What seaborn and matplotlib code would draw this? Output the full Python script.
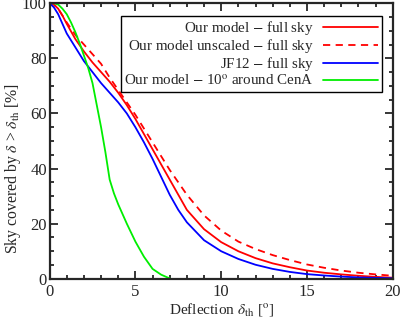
import numpy as np
import pandas as pd
import matplotlib
matplotlib.use("Agg")
import matplotlib.pyplot as plt
from matplotlib.ticker import MultipleLocator
import seaborn as sns

# deflection grid for the full-sky curves
x_full = [0, 0.25, 0.5, 0.75, 1, 1.5, 2, 2.5, 3, 3.5, 4, 4.5, 5, 5.5, 6, 6.5,
          7, 7.5, 8, 9, 10, 11, 12, 13, 14, 15, 16, 17, 18, 19, 20]
our_model = [100, 99.5, 98, 95.5, 92.5, 87, 82.5, 78.5, 75, 71.5, 67.5, 63, 58, 52.5, 47, 41.5,
             36, 30.5, 25, 18, 13.3, 10, 7.5, 5.6, 4.2, 3, 2.2, 1.6, 1.1, 0.7, 0.4]
our_unscaled = [100, 99.5, 98, 95.5, 93, 88.5, 85, 81.5, 78, 73, 68.5, 64, 59.5, 54.5, 49.5, 44.5,
                39.5, 35, 30.5, 23, 17.5, 13.5, 10.8, 8.6, 6.8, 5.2, 4, 3, 2.2, 1.6, 1.1]
jf12 = [100, 98.5, 96, 92.5, 89, 84, 79, 75, 71, 67.5, 64, 60, 55, 49.5, 43.5, 37,
        30.5, 25, 20.5, 14, 10, 7.2, 5.1, 3.6, 2.5, 1.7, 1.2, 0.8, 0.5, 0.35, 0.2]

# region 10 deg around CenA
x_cena = [0, 0.25, 0.5, 0.75, 1, 1.25, 1.5, 1.75, 2, 2.25, 2.5, 2.75, 3, 3.25, 3.5,
          3.75, 4, 4.5, 5, 5.5, 6, 6.5, 7.05]
cena = [100, 100, 99.5, 98, 96, 93, 89.5, 85.5, 81, 76.5, 71, 63, 55, 46, 36,
        31, 27, 20, 13.5, 8, 3.6, 1.5, 0]

labels = ["Our model $-$ full sky", "Our model unscaled $-$ full sky",
          "JF12 $-$ full sky", "Our model $-$ 10$^{\\rm o}$ around CenA"]

sns.set_style("ticks")
plt.rcParams["font.family"] = ["Liberation Serif", "DejaVu Serif"]
plt.rcParams["mathtext.fontset"] = "stix"

fig = plt.figure(figsize=(4, 3.19), dpi=100)
ax = fig.add_axes([0.124, 0.126, 0.858, 0.864])

series = [
    (x_full, our_model, labels[0], "#ff0000", "-"),
    (x_full, our_unscaled, labels[1], "#ff0000", (0, (4, 3))),
    (x_full, jf12, labels[2], "#0000ff", "-"),
    (x_cena, cena, labels[3], "#00ee00", "-"),
]
for xs, ys, lab, col, ls in series:
    df = pd.DataFrame({"x": xs, "y": ys})
    sns.lineplot(data=df, x="x", y="y", ax=ax, color=col, linestyle=ls,
                 linewidth=1.3, label=lab)

ax.set_xlim(0, 20)
ax.set_ylim(0, 100)
ax.xaxis.set_major_locator(MultipleLocator(5))
ax.xaxis.set_minor_locator(MultipleLocator(1))
ax.yaxis.set_major_locator(MultipleLocator(20))
ax.yaxis.set_minor_locator(MultipleLocator(5))
ax.tick_params(which="both", direction="in", top=True, right=True, width=1.3,
               labelsize=12)
ax.tick_params(which="major", length=6)
ax.tick_params(which="minor", length=3)
ax.tick_params(axis="y", pad=2)
for sp in ax.spines.values():
    sp.set_linewidth(1.6)

ax.set_xlabel("Deflection $\\delta_{\\rm th}$ [$^{\\rm o}$]", fontsize=11, labelpad=1)
ax.set_ylabel("Sky covered by $\\delta$ > $\\delta_{\\rm th}$ [%]", fontsize=11.3)
ax.yaxis.set_label_coords(-0.078, 0.40)

leg = ax.legend(loc="upper right", bbox_to_anchor=(0.969, 0.955), borderaxespad=0,
                markerfirst=False, fontsize=10.8, frameon=True, fancybox=False,
                edgecolor="black", framealpha=1, handlelength=3.7, labelspacing=0.0,
                borderpad=0.25, handletextpad=0.6)
leg.get_frame().set_linewidth(1.0)

fig.savefig("out.png", dpi=100)
